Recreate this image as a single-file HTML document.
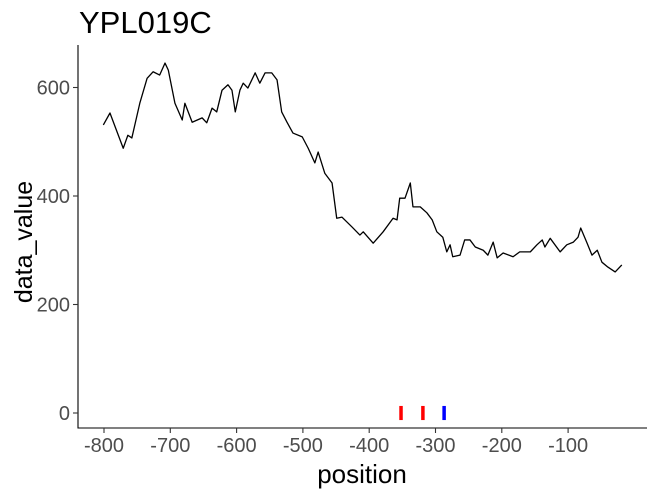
<!DOCTYPE html>
<html><head><meta charset="utf-8"><style>
body{margin:0;background:#fff}
svg{display:block;font-family:"Liberation Sans",sans-serif}
</style></head><body>
<svg id="c" width="655" height="493">
<text x="79" y="33" font-size="31" fill="#000">YPL019C</text>
<text x="362" y="483" font-size="26" text-anchor="middle">position</text>
<text transform="translate(32,242) rotate(-90)" font-size="25" text-anchor="middle">data_value</text>
<line x1="78" y1="45" x2="78" y2="428.5" stroke="#000" stroke-width="1.1"/>
<line x1="77.5" y1="428" x2="647" y2="428" stroke="#000" stroke-width="1.1"/>
<g id="g"></g>
</svg>
<script>
const positions=[-801,-791,-783,-771,-764,-758,-746,-735,-726,-716,-708,-703,-693,-682,-678,-667,-652,-645,-637,-630,-622,-613,-607,-602,-595,-590,-583,-572,-565,-557,-547,-539,-532,-524,-515,-501,-492,-482,-477,-467,-456,-449,-441,-426,-414,-409,-394,-379,-364,-358,-354,-346,-338,-334,-323,-313,-305,-298,-289,-283,-278,-274,-263,-256,-248,-240,-228,-221,-213,-207,-198,-183,-173,-157,-147,-139,-135,-127,-112,-102,-92,-85,-81,-72,-64,-56,-49,-40,-29,-19];
const values=[531,553,527,488,512,507,571,617,629,623,645,632,571,540,571,536,544,535,562,555,595,605,595,555,595,608,599,627,608,627,627,614,555,536,516,509,488,461,481,442,424,359,361,343,328,334,313,334,359,356,396,396,424,380,380,369,356,334,324,297,310,288,291,319,319,306,300,291,315,286,295,288,297,297,310,319,306,322,297,310,315,324,341,315,291,300,278,269,260,273];
const redSites=[-352,-319];
const blueSites=[-287];
const xTicks=[-800,-700,-600,-500,-400,-300,-200,-100];
const yTicks=[0,200,400,600];
const X=v=>104+(v+800)*0.663;
const Y=v=>413-v*0.5425;
const NS='http://www.w3.org/2000/svg',g=document.getElementById('g');
function mk(t,a){const e=document.createElementNS(NS,t);for(const k in a)e.setAttribute(k,a[k]);g.appendChild(e);return e;}
xTicks.forEach(t=>{
 const l=mk('line',{x1:X(t),x2:X(t),y1:428,y2:433,stroke:'#333','stroke-width':1.1});
 
 
 const s=mk('text',{x:X(t),y:452,'font-size':20,fill:'#4d4d4d','text-anchor':'middle'});s.textContent=t;
 
 
});
yTicks.forEach(t=>{
 const l=mk('line',{x1:73,x2:78,y1:Y(t),y2:Y(t),stroke:'#333','stroke-width':1.1});
 
 
 const s=mk('text',{x:70,y:Y(t)+7,'font-size':20,fill:'#4d4d4d','text-anchor':'end'});s.textContent=t;
 
 
});
const p=mk('polyline',{points:positions.map((x,i)=>X(x)+','+Y(values[i])).join(' '),fill:'none',stroke:'#000','stroke-width':1.3,'stroke-linejoin':'round'});


function site(pos,col){
 const l=mk('line',{x1:X(pos),x2:X(pos),y1:Y(13),y2:Y(-13),stroke:col,'stroke-width':3.5});
 
 
}
redSites.forEach(s=>site(s,'red'));
blueSites.forEach(s=>site(s,'blue'));
</script>
</body></html>
